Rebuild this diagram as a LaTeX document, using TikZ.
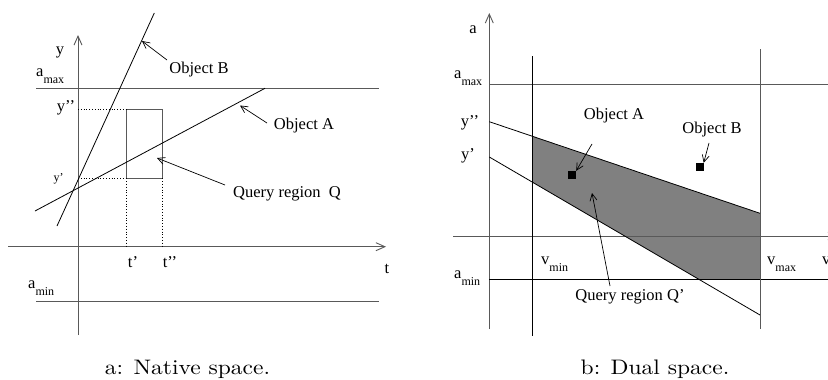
\documentclass[tikz,border=0pt]{standalone}
\usepackage{fontspec}
\usepackage{graphicx}
\newfontfamily\tfont{Liberation Serif}
\usetikzlibrary{arrows.meta}
\newcommand{\lblsize}{\fontsize{16.5}{18}\selectfont}
\newcommand{\smsize}{\fontsize{12}{13}\selectfont}
\newcommand{\subx}[2]{#1\raisebox{-7pt}{\smsize #2}}
\newcommand{\captext}[1]{\scalebox{2.35}[2.1]{\fontsize{10}{12}\selectfont #1}}
\tikzset{
  axisline/.style={draw=black!65, line width=0.9pt},
  objline/.style={draw=black, line width=0.8pt},
  dotline/.style={draw=black, line width=0.8pt, dotted},
  lbl/.style={font=\tfont\lblsize, inner sep=0pt},
  smlbl/.style={font=\tfont\smsize, inner sep=0pt},
  ptr/.style={draw=black, line width=0.7pt, -{Straight Barb[length=7pt, width=7pt]}},
  axarrow/.style={-{Straight Barb[length=9pt, width=8pt]}},
  caption/.style={inner sep=0pt, anchor=base},
  objsq/.style={fill=black, draw=none, minimum size=8pt, inner sep=0pt}
}
\begin{document}
\begin{tikzpicture}[x=1pt, y=-1pt]
\useasboundingbox (0,0) rectangle (828,380);
\clip (0,0) rectangle (828,380);

% ---------------- Left panel: native space ----------------
\coordinate (yb) at (78,335);
\coordinate (yt) at (78,35);
\coordinate (tl) at (8,246.7);
\coordinate (tr) at (386,246.7);
\coordinate (amaxL) at (36,88.3);
\coordinate (amaxR) at (379,88.3);
\coordinate (aminL) at (36,301.7);
\coordinate (aminR) at (379,301.7);
\draw[axisline, axarrow] (yb) -- (yt);
\draw[axisline, axarrow] (tl) -- (tr);
\draw[axisline] (amaxL) -- (amaxR);
\draw[axisline] (aminL) -- (aminR);

% query rectangle
\coordinate (q1) at (126.7,109.3);
\coordinate (q2) at (162.3,178.3);
\draw[axisline] (q1) rectangle (q2);
\coordinate (ydd) at (78,109.3);
\coordinate (yd) at (78,178.3);
\coordinate (td) at (126.7,246.7);
\coordinate (tdd) at (162.3,246.7);
\draw[dotline] (ydd) -- (q1);
\draw[dotline] (yd) -- (q1 |- q2);
\draw[dotline] (q1 |- q2) -- (td);
\draw[dotline] (q2) -- (tdd);

% objects
\coordinate (bA) at (57,226);
\coordinate (bB) at (154.3,13);
\coordinate (aA) at (35,211);
\coordinate (aB) at (265,88.3);
\draw[objline] (bA) -- (bB);
\draw[objline] (aA) -- (aB);

% labels
\node[lbl] (ylab) at (60,52) {y};
\node[lbl, anchor=base west] (amaxlab) at (36,76) {\subx{a}{max}};
\node[lbl, anchor=base west] (aminlab) at (28,288) {\subx{a}{min}};
\node[lbl] (yddlab) at (66,108) {y’’};
\node[smlbl] (ydlab) at (58.5,178.5) {y’};
\node[lbl] (tdlab) at (133,262) {t’};
\node[lbl] (tddlab) at (170,262) {t’’};
\node[lbl] (tlab) at (387,269) {t};

\node[lbl] (objB) at (199,70) {Object B};
\node[lbl] (objA) at (304,126) {Object A};
\node[lbl] (qlab) at (287,194) {Query region\ \ Q};
\coordinate (pB1) at (167,60);
\coordinate (pB2) at (142,41);
\coordinate (pA1) at (267,123);
\coordinate (pA2) at (240,105.5);
\coordinate (pQ1) at (225,185);
\coordinate (pQ2) at (157,158);
\draw[ptr] (pB1) -- (pB2);
\draw[ptr] (pA1) -- (pA2);
\draw[ptr] (pQ1) -- (pQ2);

\node[caption] (capA) at (187.5,374) {\captext{a: Native space.}};

% ---------------- Right panel: dual space ----------------
\coordinate (Ab) at (489.3,329);
\coordinate (At) at (489.3,13);
\coordinate (vl) at (453,236);
\coordinate (vr) at (838,236);
\coordinate (amax2L) at (489.3,84.3);
\coordinate (amax2R) at (828,84.3);
\coordinate (amin2L) at (489.3,279);
\coordinate (amin2R) at (828,279);
\coordinate (vminT) at (532,56);
\coordinate (vminB) at (532,336);
\coordinate (vmaxT) at (760,49);
\coordinate (vmaxB) at (760,329);

% shaded region Q'
\coordinate (s1) at (532,136.2);
\coordinate (s2) at (760,213.3);
\coordinate (s3) at (760,279);
\coordinate (s4) at (698.3,279);
\coordinate (s5) at (532,182.1);
\fill[black!50] (s1) -- (s2) -- (s3) -- (s4) -- (s5) -- cycle;

\draw[axisline, axarrow] (Ab) -- (At);
\draw[axisline, axarrow] (vl) -- (vr);
\draw[axisline] (amax2L) -- (amax2R);
\draw[objline] (amin2L) -- (amin2R);
\draw[objline] (vminT) -- (vminB);
\draw[axisline] (vmaxT) -- (vmaxB);

\coordinate (u1) at (489.3,121.7);
\coordinate (l1) at (489.3,157);
\coordinate (l2) at (760,315);
\draw[objline] (u1) -- (s2);
\draw[objline] (l1) -- (l2);

\node[objsq] (sqA) at (572,175) {};
\node[objsq] (sqB) at (699.5,167) {};

\node[lbl] (alab) at (473,30) {a};
\node[lbl, anchor=base west] (amax2lab) at (454,78) {\subx{a}{max}};
\node[lbl, anchor=base west] (amin2lab) at (454,278) {\subx{a}{min}};
\node[lbl] (ydd2lab) at (470,123) {y’’};
\node[lbl] (yd2lab) at (468,156) {y’};
\node[lbl, anchor=base west] (vminlab) at (541,264) {\subx{v}{min}};
\node[lbl, anchor=base west] (vmaxlab) at (767,264) {\subx{v}{max}};
\node[lbl, anchor=base west] (vlab) at (822,264) {v};

\node[lbl] (objA2) at (614,116) {Object A};
\node[lbl] (objB2) at (712,130) {Object B};
\node[lbl] (qlab2) at (630,297) {Query region Q’};
\coordinate (rA1) at (592,144);
\coordinate (rB1) at (709,143);
\coordinate (rQ1) at (610,286);
\coordinate (rQ2) at (592,193);
\draw[ptr] (rA1) -- (sqA.north east);
\draw[ptr] (rB1) -- (sqB.north east);
\draw[ptr] (rQ1) -- (rQ2);

\node[caption] (capB) at (655,374) {\captext{b: Dual space.}};
\end{tikzpicture}
\end{document}
